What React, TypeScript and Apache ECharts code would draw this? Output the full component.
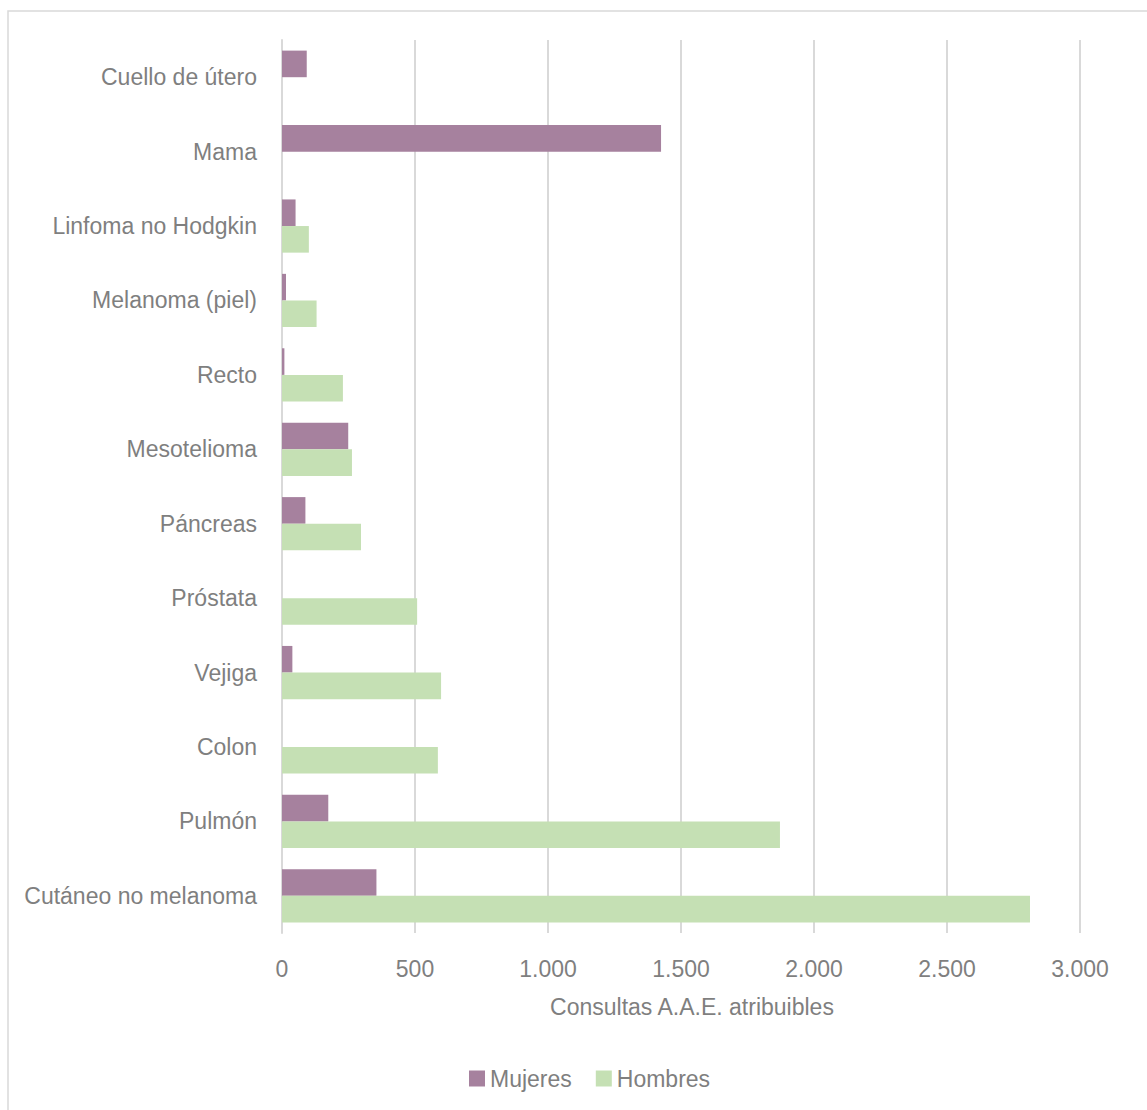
import React, { useEffect, useRef } from "react";
import * as echarts from "echarts";

const categories = [
  "Cuello de útero",
  "Mama",
  "Linfoma no Hodgkin",
  "Melanoma (piel)",
  "Recto",
  "Mesotelioma",
  "Páncreas",
  "Próstata",
  "Vejiga",
  "Colon",
  "Pulmón",
  "Cutáneo no melanoma",
];
const mujeres = [93, 1425, 51, 15, 9, 249, 88, 0, 39, 0, 174, 355];
const hombres = [0, 0, 101, 130, 229, 263, 297, 508, 598, 586, 1872, 2812];
const seriesNames = ["Mujeres", "Hombres"];
const axisTitle = "Consultas A.A.E. atribuibles";

const FONT = "'Liberation Sans', Arial, sans-serif";
const TEXT = "#7f7f7f";
const FS = 23;

export default function App() {
  const ref = useRef<HTMLDivElement>(null);
  useEffect(() => {
    if (!ref.current) return;
    const chart = echarts.init(ref.current, undefined, { renderer: "svg" });
    chart.setOption({
      animation: false,
      backgroundColor: "#ffffff",
      textStyle: { fontFamily: FONT },
      grid: { left: 282, right: 67, top: 40, bottom: 177, containLabel: false },
      legend: {
        data: seriesNames,
        bottom: 15,
        left: 464,
        itemWidth: 16,
        itemHeight: 16,
        itemGap: 24,
        icon: "rect",
        textStyle: { color: TEXT, fontSize: FS, fontFamily: FONT },
      },
      xAxis: {
        type: "value",
        min: 0,
        max: 3000,
        interval: 500,
        axisLine: { show: false },
        axisTick: { show: false },
        splitLine: { show: true, lineStyle: { color: "#d9d9d9", width: 2 } },
        axisLabel: {
          color: TEXT,
          fontSize: FS,
          margin: 24,
          fontFamily: FONT,
          formatter: (v: number) => v.toLocaleString("de-DE"),
        },
      },
      yAxis: {
        type: "category",
        data: categories,
        inverse: true,
        axisLine: { show: true, lineStyle: { color: "#d9d9d9", width: 2 } },
        axisTick: { show: false },
        axisLabel: { color: TEXT, fontSize: FS, margin: 25, fontFamily: FONT },
      },
      graphic: [
        {
          type: "rect",
          shape: { x: 8, y: 11, width: 1160, height: 1120 },
          style: { fill: "none", stroke: "#d9d9d9", lineWidth: 1.5 },
          silent: true,
        },
        {
          type: "text",
          x: 692,
          y: 1007,
          style: {
            text: axisTitle,
            fill: TEXT,
            fontSize: FS,
            fontFamily: FONT,
            align: "center",
            verticalAlign: "middle",
          },
        },
      ],
      series: [
        {
          name: seriesNames[0],
          type: "bar",
          data: mujeres,
          barGap: "0%",
          barCategoryGap: "28.5%",
          itemStyle: { color: "#a6819e" },
        },
        {
          name: seriesNames[1],
          type: "bar",
          data: hombres,
          barGap: "0%",
          barCategoryGap: "28.5%",
          itemStyle: { color: "#c5e0b4" },
        },
      ],
    });
    return () => chart.dispose();
  }, []);
  return (
    <div
      ref={ref}
      style={{ position: "fixed", left: 0, top: 0, width: 1147, height: 1110 }}
    />
  );
}
